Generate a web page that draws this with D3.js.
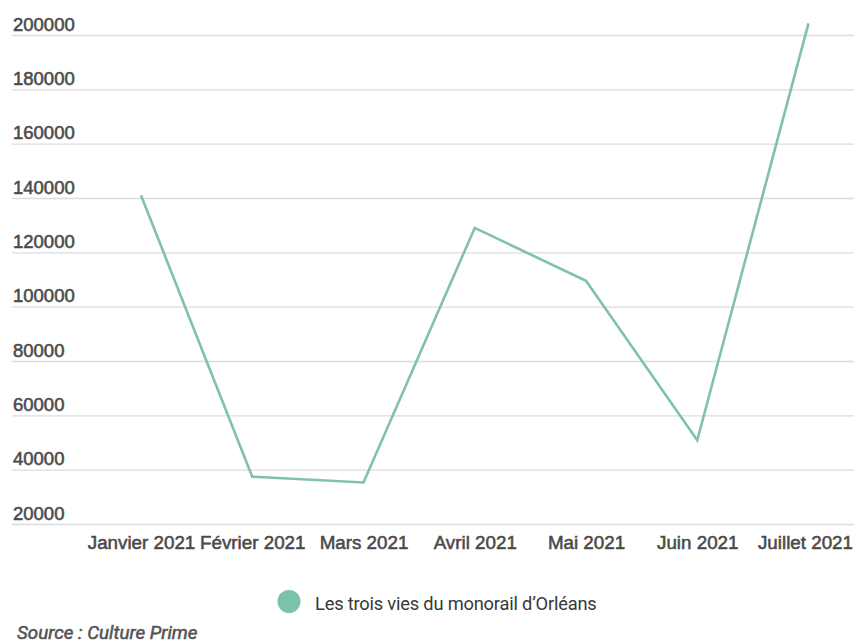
<!DOCTYPE html>
<html><head><meta charset="utf-8">
<script src="https://cdn.jsdelivr.net/npm/d3@7"></script>
<style>
html,body{margin:0;padding:0;background:#fff;}
svg{display:block;font-family:Roboto, "Noto Sans", sans-serif;}
</style></head>
<body>
<svg id="chart" width="854" height="643"></svg>
<script>
const categories = ["Janvier 2021","Février 2021","Mars 2021","Avril 2021","Mai 2021","Juin 2021","Juillet 2021"];
const values = [141000, 37400, 35300, 129000, 109500, 50800, 204300];
const yTicks = [20000,40000,60000,80000,100000,120000,140000,160000,180000,200000];
const seriesName = "Les trois vies du monorail d\u2019Orléans";
const sourceText = "Source : Culture Prime";

const svg = d3.select("#chart");
const W = 854;
const x = d3.scalePoint().domain(categories).range([141, 808.5]);
const y = d3.scaleLinear().domain([20000, 200000]).range([524, 35]);

function medium(sel, col){
  sel.attr("fill",col).attr("stroke",col).attr("stroke-width",0.55).attr("paint-order","stroke");
}

// grid
const yAxis = d3.axisLeft(y).tickValues(yTicks).tickSize(0).tickFormat(d3.format("d"));
const gy = svg.append("g").attr("transform","translate(12,0)").call(yAxis);
gy.select(".domain").remove();
gy.selectAll(".tick line").attr("x1",0).attr("x2",842).attr("stroke","#dcdcdc").attr("stroke-width",1.3);
gy.selectAll(".tick text").attr("x",1).attr("dy",-5).attr("text-anchor","start")
  .attr("font-size",18.5).attr("font-weight",400).call(medium,"#4a4a4a");

// x axis
const xAxis = d3.axisBottom(x).tickSize(0);
const gx = svg.append("g").attr("transform","translate(0,524)").call(xAxis);
gx.select(".domain").remove();
gx.selectAll(".tick text").attr("dy",0).attr("y",25)
  .attr("font-size",18.8).attr("font-weight",400).call(medium,"#4a4a4a")
  .each(function(d){
    const w = this.getComputedTextLength();
    const right = x(d) + w/2;
    if (right > W - 1.5) d3.select(this).attr("x", (W - 1.5) - right);
  });

// line
const line = d3.line().x((d,i)=>x(categories[i])).y(d=>y(d));
svg.append("path").datum(values).attr("d",line).attr("fill","none")
  .attr("stroke","#80c1ab").attr("stroke-width",2.6).attr("stroke-linejoin","miter");

// legend
const lg = svg.append("g");
lg.append("circle").attr("cx",289).attr("cy",601.5).attr("r",11.5).attr("fill","#7cc2a8");
lg.append("text").attr("x",315).attr("y",610).attr("fill","#383838").attr("font-size",18.3)
  .attr("letter-spacing",-0.2).text(seriesName);

svg.append("text").attr("x",17).attr("y",639).attr("font-size",18.8)
  .attr("font-style","italic").attr("font-weight",400).call(medium,"#555").text(sourceText);
</script>
</body></html>
